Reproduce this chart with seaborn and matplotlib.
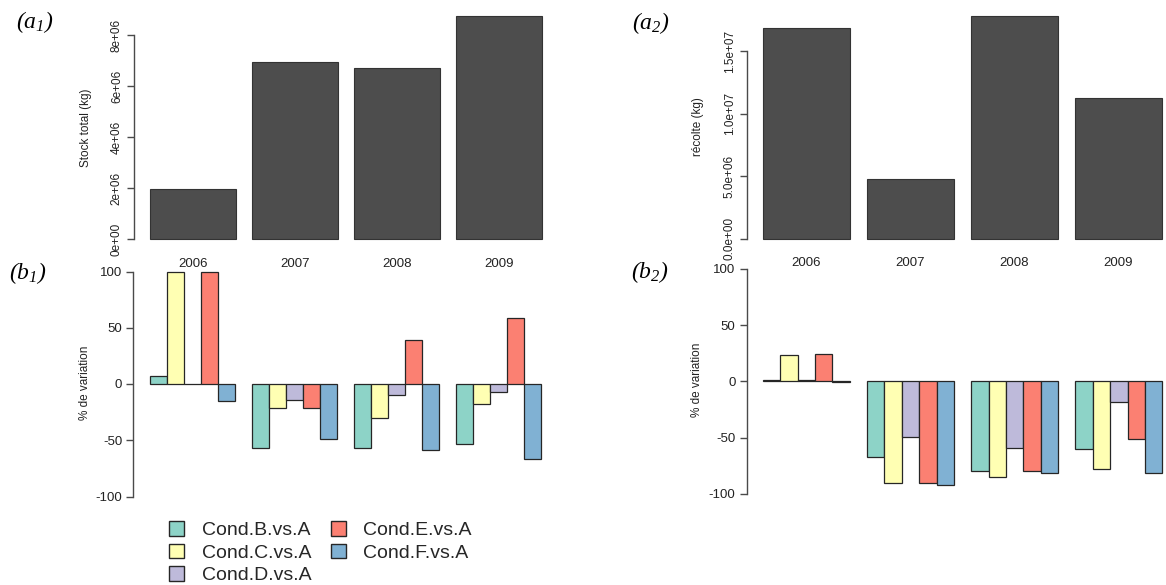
import matplotlib
matplotlib.use("Agg")
import matplotlib.pyplot as plt
from matplotlib.patches import Patch
import pandas as pd
import seaborn as sns

# ---- data -------------------------------------------------------------
years = ["2006", "2007", "2008", "2009"]
conditions = ["Cond.B.vs.A", "Cond.C.vs.A", "Cond.D.vs.A", "Cond.E.vs.A", "Cond.F.vs.A"]

stock_total = [1.97e6, 6.95e6, 6.71e6, 8.73e6]        # kg
recolte = [16.87e6, 4.76e6, 17.79e6, 11.25e6]          # kg

# % de variation of the stock, one list per condition (2006..2009)
stock_b = [7.4, -57.2, -56.6, -53.3]
stock_c = [100.0, -21.6, -30.5, -17.5]
stock_d = [0.0, -13.9, -10.1, -7.1]
stock_e = [100.0, -21.6, 38.8, 58.9]
stock_f = [-15.1, -48.9, -58.7, -66.7]

# % de variation of the harvest, one list per condition (2006..2009)
recolte_b = [1.2, -67.1, -80.1, -60.0]
recolte_c = [23.4, -90.5, -85.1, -78.3]
recolte_d = [0.8, -49.3, -59.6, -18.1]
recolte_e = [24.3, -90.5, -80.1, -51.1]
recolte_f = [-0.8, -92.5, -81.3, -81.9]

stock_ticks = [0, 2e6, 4e6, 6e6, 8e6]
stock_ticklabels = ["0e+00", "2e+06", "4e+06", "6e+06", "8e+06"]
recolte_ticks = [0, 5e6, 1e7, 1.5e7]
recolte_ticklabels = ["0.0e+00", "5.0e+06", "1.0e+07", "1.5e+07"]
var_ticks = [-100, -50, 0, 50, 100]
var_ticklabels = ["-100", "-50", "0", "50", "100"]

palette = ["#8DD3C7", "#FFFFB3", "#BEBADA", "#FB8072", "#80B1D3"]


def long_table(series):
    rows = []
    for cond, vals in zip(conditions, series):
        for yr, v in zip(years, vals):
            rows.append({"year": yr, "cond": cond, "value": v})
    return pd.DataFrame(rows)


df_stock = pd.DataFrame({"year": years, "value": stock_total})
df_recolte = pd.DataFrame({"year": years, "value": recolte})
df_var_stock = long_table([stock_b, stock_c, stock_d, stock_e, stock_f])
df_var_recolte = long_table([recolte_b, recolte_c, recolte_d, recolte_e, recolte_f])

# ---- style ------------------------------------------------------------
sns.set_theme(style="white")
plt.rcParams["font.family"] = ["Liberation Sans", "DejaVu Sans"]
plt.rcParams["mathtext.fontset"] = "custom"
plt.rcParams["mathtext.rm"] = "Liberation Serif:italic"
plt.rcParams["mathtext.it"] = "Liberation Serif:italic"

AXIS_COL = "#4a4a4a"
TEXT_COL = "#222222"
EDGE_COL = "#262626"

W, H = 1166, 585
fig = plt.figure(figsize=(W / 100, H / 100), dpi=100)


def make_axes(left, right, top, bottom):
    ax = fig.add_axes([left / W, 1 - bottom / H, (right - left) / W, (bottom - top) / H])
    ax.set_facecolor("none")
    return ax


def fit_limits(ax, box, xc0, dx, y0, ky):
    """Set limits so category i sits at pixel xc0+i*dx and value v at y0-v*ky."""
    left, right, top, bottom = box
    ax.set_xlim((left - xc0) / dx, (right - xc0) / dx)
    ax.set_ylim((y0 - bottom) / ky, (y0 - top) / ky)


def style_axis(ax, lo, hi):
    for s in ("top", "right", "bottom"):
        ax.spines[s].set_visible(False)
    ax.spines["left"].set_bounds(lo, hi)
    ax.spines["left"].set_color(AXIS_COL)
    ax.spines["left"].set_linewidth(1.0)
    ax.set_xlabel("")
    ax.set_ylabel("")
    ax.grid(False)


def total_panel(box, df, xc0, dx, y0, ky, ticks, ticklabels, xpad):
    ax = make_axes(*box)
    sns.barplot(data=df, x="year", y="value", color="#4D4D4D", saturation=1,
                width=0.84, edgecolor="#333333", linewidth=0.8, ax=ax)
    fit_limits(ax, box, xc0, dx, y0, ky)
    style_axis(ax, ticks[0], ticks[-1])
    ax.set_yticks(ticks)
    ax.set_yticklabels(ticklabels, rotation=90, va="center", fontsize=8.5, color=TEXT_COL)
    ax.tick_params(axis="y", length=5, width=1.0, color=AXIS_COL, pad=3, left=True)
    ax.tick_params(axis="x", length=0, pad=xpad, labelsize=9.5, labelcolor=TEXT_COL)
    return ax


def variation_panel(box, df, xc0, dx, y0, ky):
    ax = make_axes(*box)
    sns.barplot(data=df, x="year", y="value", hue="cond", hue_order=conditions,
                palette=palette, saturation=1, width=5 / 6, dodge=True,
                edgecolor=EDGE_COL, linewidth=0.9, legend=False, ax=ax)
    fit_limits(ax, box, xc0, dx, y0, ky)
    style_axis(ax, -100, 100)
    ax.set_yticks(var_ticks)
    ax.set_yticklabels(var_ticklabels, fontsize=9.5, color=TEXT_COL)
    ax.tick_params(axis="y", length=5, width=1.0, color=AXIS_COL, pad=3, left=True)
    ax.set_xticks([])
    return ax


# (a1) total stock
total_panel((134, 560, 8, 248), df_stock, 193, 102, 239.3, 204.3 / 8e6,
            stock_ticks, stock_ticklabels, xpad=7.5)
# (a2) harvest
total_panel((746.7, 1166, 4, 248), df_recolte, 806.5, 104, 238.7, 187.6 / 1.5e7,
            recolte_ticks, recolte_ticklabels, xpad=6.5)
# (b1) stock variation
variation_panel((133.3, 560, 262, 505), df_var_stock, 192.5, 102, 384, 1.125)
# (b2) harvest variation
variation_panel((746.7, 1166, 258, 505), df_var_recolte, 806.3, 104.2, 381.3, 1.124)

# axis titles
def fig_text(x, y, s, **kw):
    fig.text(x / W, 1 - y / H, s, **kw)

fig_text(86, 128, "Stock total (kg)", rotation=90, ha="center", va="center", fontsize=8.5, color=TEXT_COL)
fig_text(698, 127, "récolte (kg)", rotation=90, ha="center", va="center", fontsize=8.5, color=TEXT_COL)
fig_text(85, 383, "% de variation", rotation=90, ha="center", va="center", fontsize=8.5, color=TEXT_COL)
fig_text(697, 380, "% de variation", rotation=90, ha="center", va="center", fontsize=8.5, color=TEXT_COL)

# panel tags
for x, y, tag in [(35, 22, r"$(a_1)$"), (651, 23, r"$(a_2)$"),
                  (28, 273, r"$(b_1)$"), (650, 272, r"$(b_2)$")]:
    fig_text(x, y, tag, ha="center", va="center", fontsize=17, color="black")

# legend for the condition colours
handles = [Patch(facecolor=c, edgecolor=EDGE_COL, linewidth=1.0) for c in palette]
fig.legend(handles, conditions, loc="upper left", bbox_to_anchor=(169 / W, 1 - 521 / H),
           ncol=2, frameon=False, fontsize=14, handlelength=0.78, handleheight=0.78,
           handletextpad=0.9, columnspacing=1.0, labelspacing=0.23, borderpad=0,
           borderaxespad=0)

fig.savefig("out.png", dpi=100, facecolor="white")
